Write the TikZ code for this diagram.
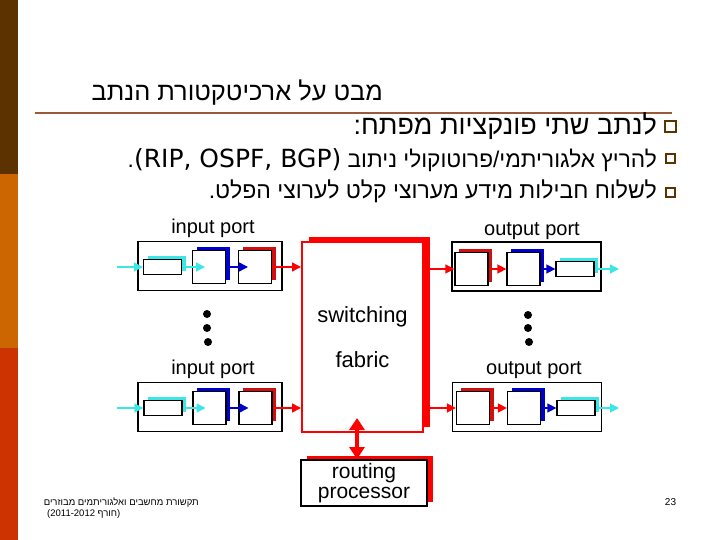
\documentclass[tikz,border=0pt]{standalone}
\usepackage{fontspec}
\setmainfont{Liberation Sans}
\newfontfamily\hebfont[Script=Hebrew]{Liberation Sans}
\newfontfamily\latfont{DejaVu Sans}
\TeXXeTstate=1
\usepackage{tikz}
\usetikzlibrary{arrows.meta,shadows,calc}

\definecolor{stripeA}{HTML}{5C3300}
\definecolor{stripeB}{HTML}{CC6600}
\definecolor{stripeC}{HTML}{CC3300}
\definecolor{rulebrown}{HTML}{9A5A3A}
\definecolor{qcyan}{HTML}{3CE6E6}
\definecolor{qblue}{HTML}{0000CC}
\definecolor{qred}{HTML}{FF0000}
\definecolor{dred}{HTML}{D01010}

\begin{document}
\begin{tikzpicture}[x=1pt,y=-1pt,
    port/.style={draw, line width=1.6pt, minimum width=144pt, minimum height=49pt, inner sep=0pt},
    buf/.style={draw, fill=white, line width=1.3pt, minimum width=33pt, minimum height=33pt, inner sep=0pt,
      general shadow={fill=#1, shadow xshift=4pt, shadow yshift=4pt}},
    queue/.style={draw, fill=white, line width=1.3pt, minimum width=38pt, minimum height=15pt, inner sep=0pt,
      general shadow={fill=qcyan, shadow xshift=4pt, shadow yshift=4pt}},
    lbl/.style={font=\fontsize{20}{24}\selectfont},
    arr/.style={#1, line width=1.5pt, -{Triangle[length=9pt,width=9pt]}},
    bullet/.style={draw=stripeA, line width=2pt, fill=white, inner sep=0pt}]
    \useasboundingbox (0,0) rectangle (720,540);

    % side stripe
    \fill[stripeA] (0,0) rectangle (17.5,174);
    \fill[stripeB] (0,174) rectangle (17.5,348);
    \fill[stripeC] (0,348) rectangle (17.5,540);

    % title and bullets
    \node[anchor=base east, inner sep=0pt, font=\fontsize{25.4}{30}\selectfont\hebfont] (title) at (383,101)
      {\beginR מבט על ארכיטקטורת הנתב\endR};
    \draw[rulebrown, line width=2pt] (35,113) -- (672,113);

    \node[bullet, minimum size=11pt] (b1) at (670,127) {};
    \node[bullet, minimum size=9pt] (b2) at (670,159) {};
    \node[bullet, minimum size=9pt] (b3) at (670,193) {};
    \node[anchor=base east, inner sep=0pt, font=\fontsize{27}{32}\selectfont\hebfont] (t1) at (657,135)
      {\beginR לנתב שתי פונקציות מפתח\kern0pt:\endR};
    \node[anchor=base east, inner sep=0pt, font=\fontsize{22.7}{27}\selectfont\hebfont] (t2) at (657,168)
      {\beginR להריץ אלגוריתמי/פרוטוקולי ניתוב \beginL{\latfont\fontsize{25}{27}\selectfont(RIP, OSPF, BGP)}\endL.\endR};
    \node[anchor=base east, inner sep=0pt, font=\fontsize{23}{27}\selectfont\hebfont] (t3) at (657,199)
      {\beginR לשלוח חבילות מידע מערוצי קלט לערוצי הפלט\kern0pt.\endR};

    % switching fabric and routing processor
    \node[draw=qred, line width=2pt, fill=white, minimum width=121pt, minimum height=190pt,
      general shadow={fill=qred, shadow xshift=7pt, shadow yshift=5pt},
      align=center, font=\fontsize{22}{26}\selectfont] (fabric) at (362.5,337) {switching\\[19pt]fabric};
    \node[draw, line width=1.6pt, fill=white, minimum width=126pt, minimum height=44pt,
      general shadow={fill=qred, shadow xshift=6pt, shadow yshift=4pt},
      align=center, font=\fontsize{21}{20}\selectfont] (proc) at (364,483) {routing\\processor};
    \draw[qred, line width=3.5pt, {Triangle[length=12pt,width=15pt]}-{Triangle[length=12pt,width=15pt]}]
      ([xshift=-5.5pt,yshift=15pt]fabric.south) -- ([xshift=-7pt]proc.north);

    % input ports
    \node[lbl] (linA) at (213,228) {input port};
    \node[port] (iportA) at (210,266) {};
    \node[queue] (iqA) at (162.5,267) {};
    \node[buf=qblue] (isA) at (209,267) {};
    \node[buf=dred] (irA) at (255,267) {};
    \coordinate (inA) at (117,267);

    \node[lbl] (linB) at (213,369) {input port};
    \node[port] (iportB) at (210,407) {};
    \node[queue] (iqB) at (163,408) {};
    \node[buf=qblue] (isB) at (209.5,408) {};
    \node[buf=dred] (irB) at (255.5,408) {};
    \coordinate (inB) at (117,408);

    \draw[arr=qcyan] (inA) -- (iqA.west);
    \draw[arr=qcyan, shorten >=4pt] (iqA.east) -- (isA.center);
    \draw[arr=qblue, shorten >=7pt] (isA.east) -- (irA.center);
    \draw[arr=qred] (irA.east) -- (irA.east -| fabric.west);
    \draw[arr=qcyan] (inB) -- (iqB.west);
    \draw[arr=qcyan, shorten >=4pt] (iqB.east) -- (isB.center);
    \draw[arr=qblue, shorten >=7pt] (isB.east) -- (irB.center);
    \draw[arr=qred] (irB.east) -- (irB.east -| fabric.west);

    % output ports
    \node[lbl] (loutA) at (532,231) {output port};
    \node[port, minimum width=149pt] (oportA) at (526.5,266.5) {};
    \node[buf=dred] (osA) at (471.5,269) {};
    \node[buf=qblue] (obA) at (523.5,269) {};
    \node[queue] (oqA) at (575,269) {};
    \coordinate (outA) at (619,269);

    \node[lbl] (loutB) at (534,370) {output port};
    \node[port, minimum width=149pt] (oportB) at (527,407) {};
    \node[buf=dred] (osB) at (473,408) {};
    \node[buf=qblue] (obB) at (524,408) {};
    \node[queue] (oqB) at (576,408) {};
    \coordinate (outB) at (619,408);

    \draw[arr=qred] (osA.west -| fabric.east) -- (osA.west);
    \draw[arr=qred] (osA.east) -- (obA.west);
    \draw[arr=qblue] (obA.east) -- (oqA.west);
    \draw[arr=qcyan] (oqA.east) -- (outA);
    \draw[arr=qred] (osB.west -| fabric.east) -- (osB.west);
    \draw[arr=qred] (osB.east) -- (obB.west);
    \draw[arr=qblue] (obB.east) -- (oqB.west);
    \draw[arr=qcyan] (oqB.east) -- (outB);

    % dots
    \fill (207,314) circle (4pt);
    \fill (207,328) circle (4pt);
    \fill (208,342) circle (4pt);
    \fill (528,315) circle (4pt);
    \fill (528,328) circle (4pt);
    \fill (529,342) circle (4pt);

    % footer
    \node[anchor=base east, inner sep=0pt, font=\fontsize{9.5}{11}\selectfont\hebfont] (foot1) at (199,505)
      {\beginR תקשורת מחשבים ואלגוריתמים מבוזרים\endR};
    \node[anchor=base west, inner sep=0pt, font=\fontsize{9.5}{11}\selectfont] (foot2) at (47,516)
      {\beginL(2011-2012 {\hebfont\beginR חורף\endR})\endL};
    \node[font=\fontsize{10}{12}\selectfont] (pnum) at (670.5,502.5) {23};
\end{tikzpicture}
\end{document}
